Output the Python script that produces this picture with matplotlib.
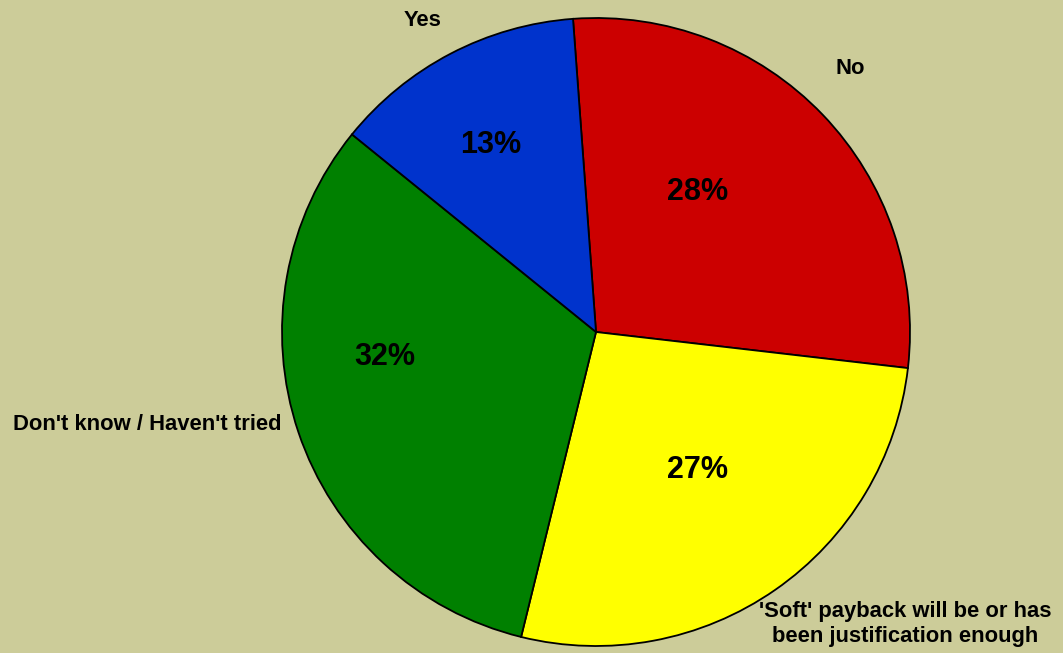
import matplotlib.pyplot as plt

plt.rcParams['font.family'] = ['Liberation Sans', 'DejaVu Sans']

categories = ['No', "'Soft' payback will be or has\nbeen justification enough",
              "Don't know / Haven't tried", 'Yes']
shares = [28, 27, 32, 13]
colors = ['#CC0000', '#FFFF00', '#008000', '#0033CC']

# label placement in pixels (x, y from top-left)
cat_pos = [(850, 69), (905, 624), (147, 425), (423, 20)]
pct_pos = [(698, 192), (698, 470), (385, 357), (491, 145)]

W, H = 1063, 653
fig = plt.figure(figsize=(W / 100, H / 100), dpi=100)
fig.patch.set_facecolor('#CCCC99')
ax = fig.add_axes([0, 0, 1, 1])
ax.set_facecolor('#CCCC99')

cx, cy, r = 596, H - 332, 314
ax.pie(shares, colors=colors, startangle=94.2, counterclock=False,
       center=(cx, cy), radius=r,
       wedgeprops=dict(edgecolor='black', linewidth=1.3))
ax.set_xlim(0, W)
ax.set_ylim(0, H)
ax.set_aspect('equal')
ax.axis('off')

for label, (x, y) in zip(categories, cat_pos):
    ax.text(x, H - y, label, ha='center', va='center', fontsize=15.8,
            fontweight='bold', linespacing=1.3)

for v, (x, y) in zip(shares, pct_pos):
    ax.text(x, H - y, f'{v}%', ha='center', va='center', fontsize=22,
            fontweight='bold')

fig.savefig('out.png', dpi=100, facecolor=fig.get_facecolor())
